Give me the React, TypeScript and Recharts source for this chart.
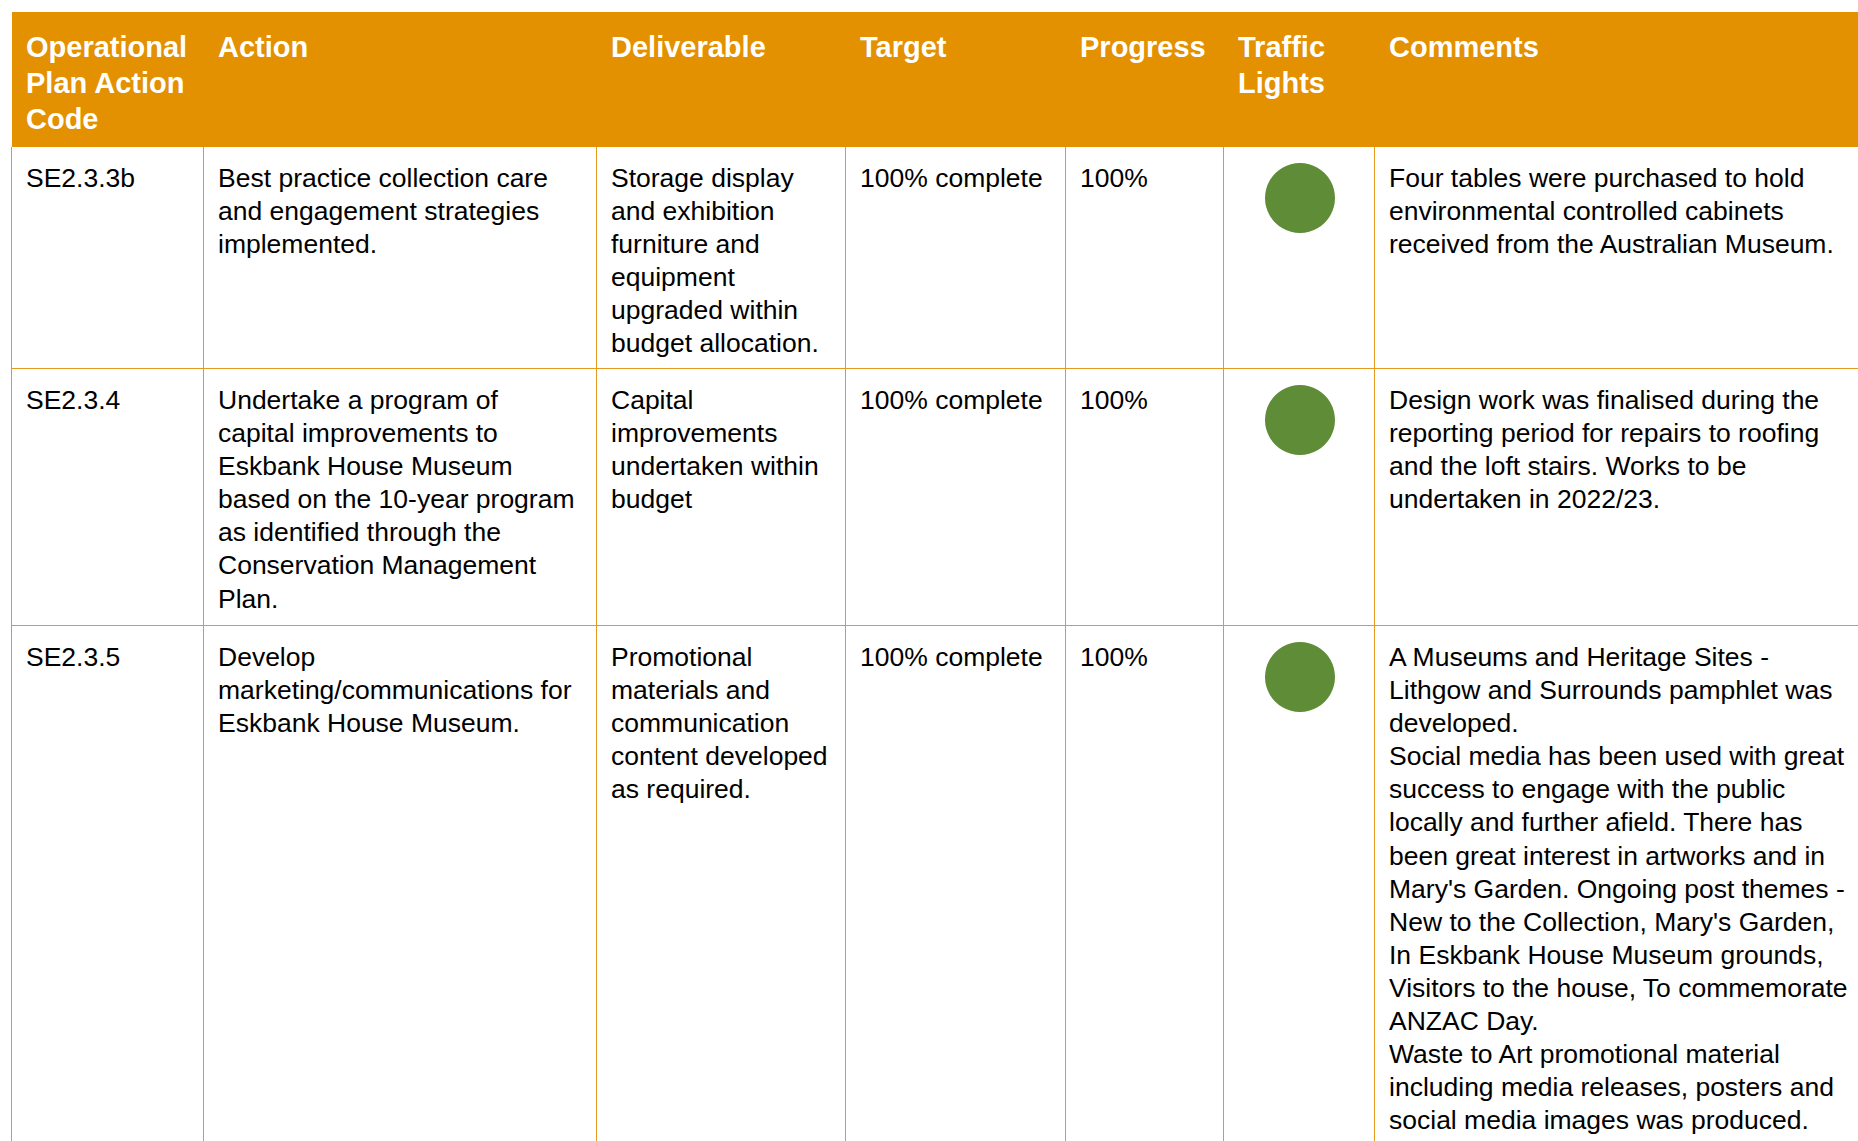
import React from "react";
import { PieChart, Pie, Cell } from "recharts";

// header labels (each entry is a list of wrapped lines)
const headers: string[][] = [
  ["Operational", "Plan Action", "Code"],
  ["Action"],
  ["Deliverable"],
  ["Target"],
  ["Progress"],
  ["Traffic", "Lights"],
  ["Comments"],
];

const codes = ["SE2.3.3b", "SE2.3.4", "SE2.3.5"];

const actions: string[][] = [
  ["Best practice collection care", "and engagement strategies", "implemented."],
  [
    "Undertake a program of",
    "capital improvements to",
    "Eskbank House Museum",
    "based on the 10-year program",
    "as identified through the",
    "Conservation Management",
    "Plan.",
  ],
  ["Develop", "marketing/communications for", "Eskbank House Museum."],
];

const deliverables: string[][] = [
  ["Storage display", "and exhibition", "furniture and", "equipment", "upgraded within", "budget allocation."],
  ["Capital", "improvements", "undertaken within", "budget"],
  ["Promotional", "materials and", "communication", "content developed", "as required."],
];

const targets = ["100% complete", "100% complete", "100% complete"];

const progress = [100, 100, 100];

const lightStatus = ["green", "green", "green"];

const comments: string[][] = [
  ["Four tables were purchased to hold", "environmental controlled cabinets", "received from the Australian Museum."],
  [
    "Design work was finalised during the",
    "reporting period for repairs to roofing",
    "and the loft stairs. Works to be",
    "undertaken in 2022/23.",
  ],
  [
    "A Museums and Heritage Sites -",
    "Lithgow and Surrounds pamphlet was",
    "developed.",
    "Social media has been used with great",
    "success to engage with the public",
    "locally and further afield. There has",
    "been great interest in artworks and in",
    "Mary's Garden. Ongoing post themes -",
    "New to the Collection, Mary's Garden,",
    "In Eskbank House Museum grounds,",
    "Visitors to the house, To commemorate",
    "ANZAC Day.",
    "Waste to Art promotional material",
    "including media releases, posters and",
    "social media images was produced.",
  ],
];

const ORANGE = "#E39100";
const LINE = "#E39A1E";
const GREEN = "#5E8C37";
const lightColors: Record<string, string> = { green: GREEN, amber: "#F2B600", red: "#C00000" };

const colX = [12, 204, 597, 846, 1066, 1224, 1375, 1920];
const headTop = 12;
const headBottom = 147;
const rowBottoms = [369, 626, 1200];
const FONT = "'Liberation Sans', Arial, sans-serif";

function Lines({ lines }: { lines: string[] }) {
  return (
    <>
      {lines.map((l, i) => (
        <div key={i} style={{ whiteSpace: "nowrap" }}>
          {l}
        </div>
      ))}
    </>
  );
}

function TrafficLight({ value, status }: { value: number; status: string }) {
  const data = [{ name: "progress", value }];
  return (
    <PieChart width={72} height={72} margin={{ top: 0, right: 0, bottom: 0, left: 0 }}>
      <Pie
        data={data}
        dataKey="value"
        cx="50%"
        cy="50%"
        outerRadius={35}
        innerRadius={0}
        startAngle={90}
        endAngle={-270}
        stroke="none"
        isAnimationActive={false}
      >
        {data.map((d, i) => (
          <Cell key={i} fill={lightColors[status]} />
        ))}
      </Pie>
    </PieChart>
  );
}

export default function App() {
  const rowTops = [headBottom, rowBottoms[0], rowBottoms[1]];
  const cellText = (r: number, c: number): string[] => {
    if (c === 0) return [codes[r]];
    if (c === 1) return actions[r];
    if (c === 2) return deliverables[r];
    if (c === 3) return [targets[r]];
    if (c === 4) return [progress[r] + "%"];
    if (c === 6) return comments[r];
    return [];
  };
  return (
    <div
      style={{
        position: "fixed",
        left: 0,
        top: 0,
        width: 1858,
        height: 1141,
        overflow: "hidden",
        background: "#fff",
        fontFamily: FONT,
      }}
    >
      {/* header band */}
      <div
        style={{
          position: "absolute",
          left: colX[0],
          top: headTop,
          width: colX[7] - colX[0],
          height: headBottom - headTop,
          background: ORANGE,
        }}
      />
      {headers.map((h, c) => (
        <div
          key={"h" + c}
          style={{
            position: "absolute",
            left: colX[c] + 14,
            top: headTop + 17,
            color: "#fff",
            fontWeight: 700,
            fontSize: 29,
            lineHeight: "36px",
          }}
        >
          <Lines lines={h} />
        </div>
      ))}
      {/* vertical lines */}
      {colX.slice(0, 7).map((x, i) => (
        <div
          key={"v" + i}
          style={{ position: "absolute", left: x - 1, top: headBottom, width: 1, height: 1141 - headBottom, background: LINE }}
        />
      ))}
      {/* horizontal lines */}
      {rowBottoms.slice(0, 2).map((y, i) => (
        <div
          key={"r" + i}
          style={{ position: "absolute", left: colX[0] - 1, top: y - 1, width: colX[7], height: 1, background: LINE }}
        />
      ))}
      {codes.map((_, r) =>
        [0, 1, 2, 3, 4, 6].map((c) => (
          <div
            key={"t" + r + "-" + c}
            style={{
              position: "absolute",
              left: colX[c] + 14,
              top: rowTops[r] + 15,
              color: "#000",
              fontSize: 26.5,
              lineHeight: "33.1px",
            }}
          >
            <Lines lines={cellText(r, c)} />
          </div>
        ))
      )}
      {codes.map((_, r) => (
        <div
          key={"l" + r}
          style={{
            position: "absolute",
            left: (colX[5] + colX[6]) / 2 - 36,
            top: rowTops[r] + 51 - 36,
          }}
        >
          <TrafficLight value={progress[r]} status={lightStatus[r]} />
        </div>
      ))}
    </div>
  );
}
